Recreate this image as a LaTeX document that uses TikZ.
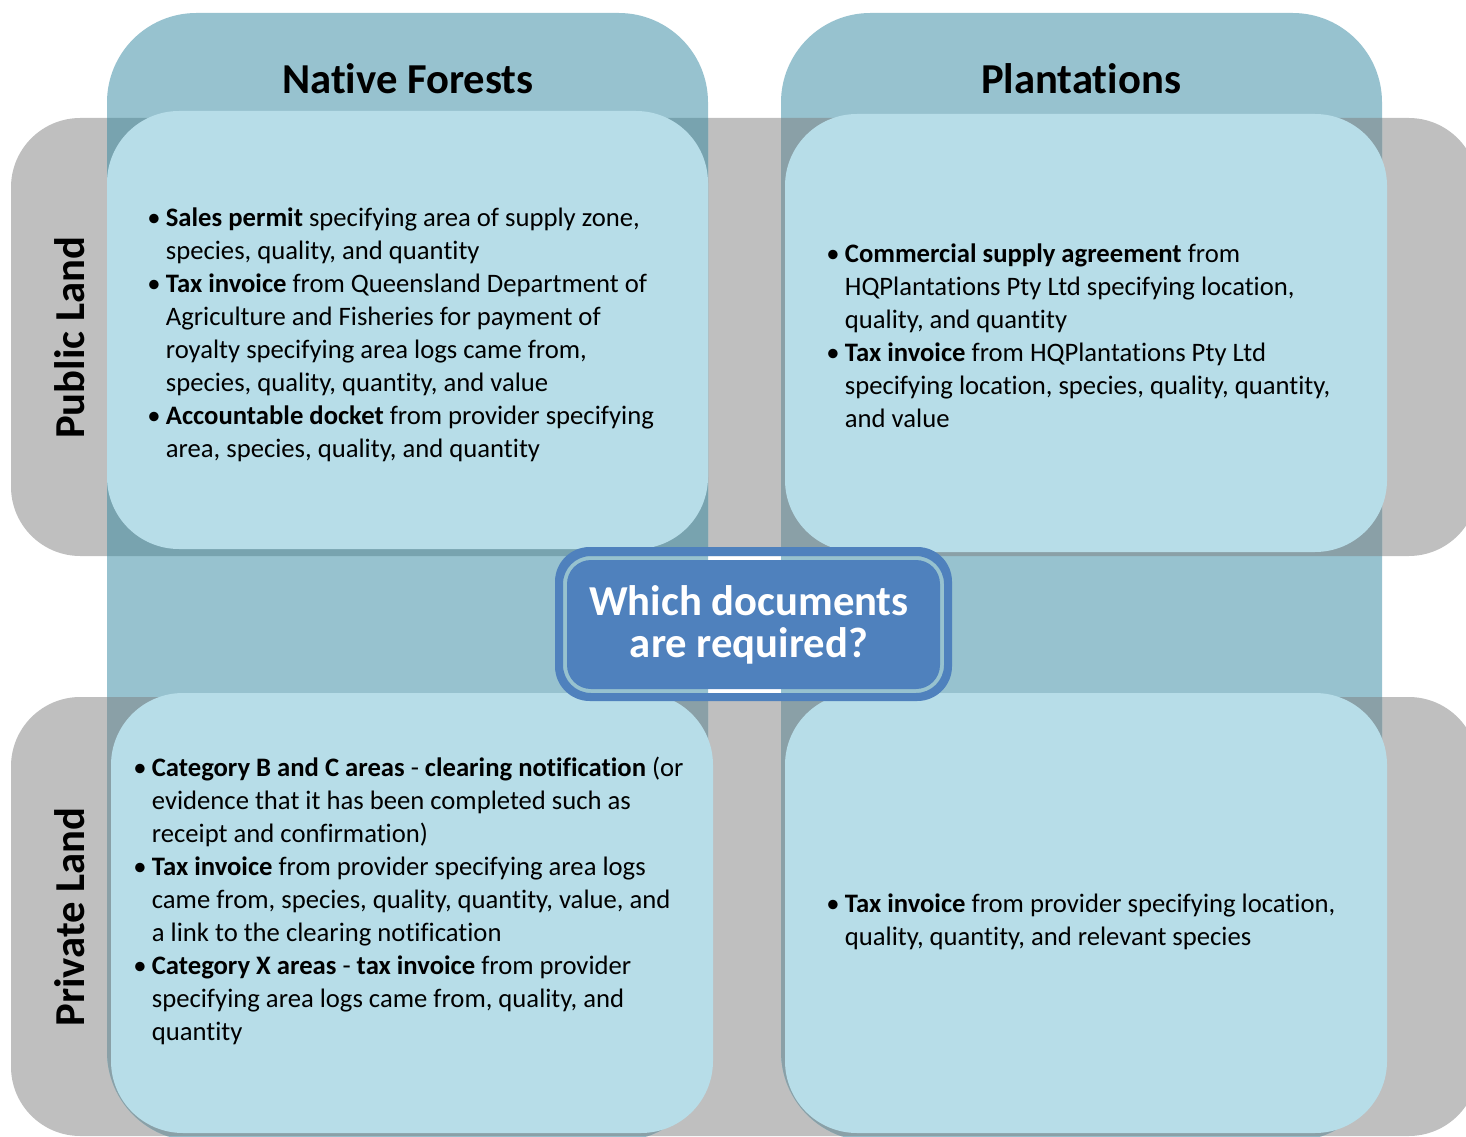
\documentclass[tikz,border=0pt]{standalone}
\usepackage{fontspec}
\setmainfont{Carlito}[Ligatures=NoCommon]
\definecolor{rowgray}{HTML}{BFBFBF}
\definecolor{colteal}{HTML}{97C2CF}
\definecolor{boxblue}{HTML}{B7DDE8}
\definecolor{tealovergray}{HTML}{78A3AF}
\definecolor{slateovergray}{HTML}{8AA0A7}
\definecolor{askblue}{HTML}{4F81BD}
\newcommand{\doclist}[1]{\begin{tabular}{@{}l@{\hspace{4pt}}l@{}}#1\end{tabular}}
\tikzset{
  row band/.style={fill=rowgray,rounded corners=52pt},
  column band/.style={fill=colteal,rounded corners=67pt},
  info box/.style={fill=boxblue,rounded corners=54pt},
  head label/.style={font=\fontsize{32}{36}\selectfont\bfseries},
  side label/.style={head label,rotate=90},
  ask text/.style={text=white,align=center,font=\fontsize{32}{31}\selectfont\bfseries},
  doc list/.style={anchor=north west,inner sep=0pt,font=\fontsize{20}{24.75}\selectfont},
}

\begin{document}
\begin{tikzpicture}[x=0.75pt,y=-0.75pt]
  \useasboundingbox (0,0) rectangle (1466,1137);
  \clip (0,0) rectangle (1466,1137);
  % land rows and forest columns
  \fill[row band] (11,118) rectangle (1478,556);
  \fill[row band] (11,697) rectangle (1478,1136);
  \fill[column band] (107,13) rectangle (708,1141);
  \fill[column band] (781,13) rectangle (1382,1141);
  \foreach \ya/\yb/\xa/\xb/\shade in {118/556/107/708/tealovergray,118/556/781/1382/slateovergray,
    697/1136/107/708/slateovergray,697/1136/781/1382/slateovergray}{
    \begin{scope}
      \clip[rounded corners=52pt] (11,\ya) rectangle (1478,\yb);
      \fill[\shade,rounded corners=67pt] (\xa,13) rectangle (\xb,1141);
    \end{scope}
  }
  % document boxes
  \fill[info box] (107,111) rectangle (708,549);
  \fill[info box] (785,114) rectangle (1387,552);
  \fill[info box] (111,693) rectangle (713,1133);
  \fill[info box] (785,693) rectangle (1387,1133);

  \node[head label] (native) at (408,79) {Native Forests};
  \node[head label] (plantations) at (1081,79) {Plantations};
  \node[side label] (public) at (70,338) {Public Land};
  \node[side label] (private) at (70,917) {Private Land};

  \node[doc list] (nativepublic) at (147,203) {\doclist{
    \textbullet & \textbf{Sales permit} specifying area of supply zone,\\
    & species, quality, and quantity\\
    \textbullet & \textbf{Tax invoice} from Queensland Department of\\
    & Agriculture and Fisheries for payment of\\
    & royalty specifying area logs came from,\\
    & species, quality, quantity, and value\\
    \textbullet & \textbf{Accountable docket} from provider specifying\\
    & area, species, quality, and quantity}};
  \node[doc list] (plantpublic) at (826,239) {\doclist{
    \textbullet & \textbf{Commercial supply agreement} from\\
    & HQPlantations Pty Ltd specifying location,\\
    & quality, and quantity\\
    \textbullet & \textbf{Tax invoice} from HQPlantations Pty Ltd\\
    & specifying location, species, quality, quantity,\\
    & and value}};
  \node[doc list] (nativeprivate) at (133,753) {\doclist{
    \textbullet & \textbf{Category B and C areas} - \textbf{clearing notification} (or\\
    & evidence that it has been completed such as\\
    & receipt and confirmation)\\
    \textbullet & \textbf{Tax invoice} from provider specifying area logs\\
    & came from, species, quality, quantity, value, and\\
    & a link to the clearing notification\\
    \textbullet & \textbf{Category X areas} - \textbf{tax invoice} from provider\\
    & specifying area logs came from, quality, and\\
    & quantity}};
  \node[doc list] (plantprivate) at (826,889) {\doclist{
    \textbullet & \textbf{Tax invoice} from provider specifying location,\\
    & quality, quantity, and relevant species}};

  % question in the middle
  \fill[askblue,even odd rule,rounded corners=26pt] (555,547) rectangle (952,701)
    [rounded corners=21pt] (563,556) rectangle (944,693)
    [rounded corners=18pt] (567,560) rectangle (940,689);
  \node[ask text] (question) at (749,625) {Which documents\\are required?};
\end{tikzpicture}
\end{document}
